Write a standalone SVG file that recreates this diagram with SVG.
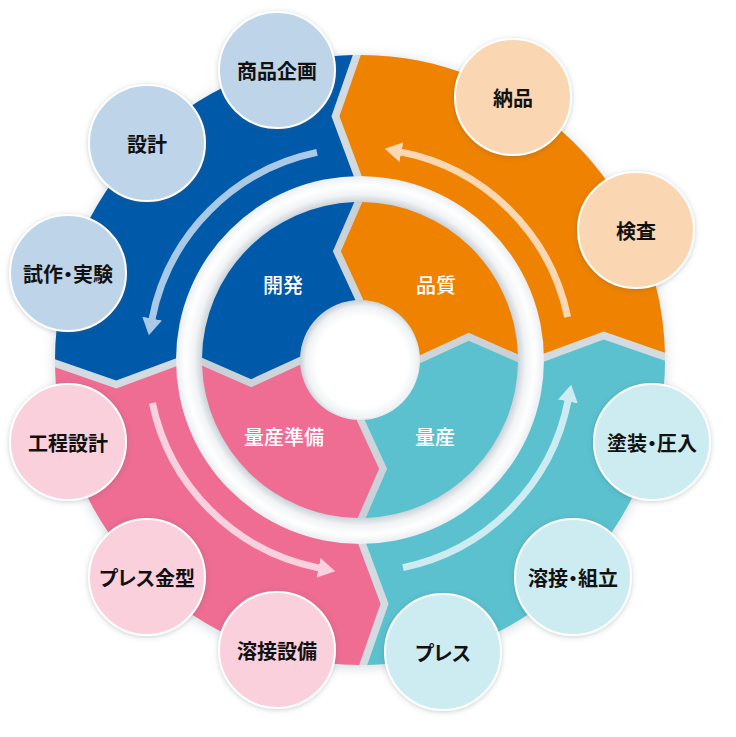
<svg xmlns="http://www.w3.org/2000/svg" width="736" height="737" viewBox="0 0 736 737">
<defs>
<style>
.blue{fill:#0059a9}.orange{fill:#ef8200}.pink{fill:#ef6c93}.cyan{fill:#5bc1cf}
.nb{fill:#bdd4e9}.no{fill:#fad7b2}.np{fill:#fbd0dd}.nc{fill:#cdecf1}
.node circle{stroke:#fff;stroke-width:2;filter:url(#sh)}
.node text{font-family:"Noto Sans CJK JP","Noto Sans",sans-serif;font-size:20px;font-weight:700;fill:#111;text-anchor:middle;dominant-baseline:central}
.node text.p{font-feature-settings:"palt"}
.lab{font-family:"Noto Sans CJK JP","Noto Sans",sans-serif;font-size:20px;font-weight:500;fill:#fff;text-anchor:middle;dominant-baseline:central}
.arc{fill:none;stroke-width:7}
</style>
<filter id="sh" x="-20%" y="-20%" width="140%" height="140%"><feDropShadow dx="0" dy="1" stdDeviation="2.5" flood-color="#4a5a66" flood-opacity="0.3"/></filter>
<filter id="blur" x="-10%" y="-10%" width="120%" height="120%"><feGaussianBlur stdDeviation="6"/></filter>
<radialGradient id="band" gradientUnits="userSpaceOnUse" cx="360" cy="360" r="184">
<stop offset="0" stop-color="#d3dbe1"/><stop offset="0.855" stop-color="#c8d0d6"/><stop offset="0.9" stop-color="#f1f3f5"/><stop offset="0.95" stop-color="#ffffff"/><stop offset="1" stop-color="#eaeef1"/>
</radialGradient>
<radialGradient id="hole" gradientUnits="userSpaceOnUse" cx="362" cy="362" r="61">
<stop offset="0" stop-color="#ffffff"/><stop offset="0.75" stop-color="#ffffff"/><stop offset="0.92" stop-color="#eef1f3"/><stop offset="1" stop-color="#cdd4da"/>
</radialGradient>
<marker id="mb" markerUnits="userSpaceOnUse" markerWidth="18" markerHeight="20" refX="1" refY="10" orient="auto"><path d="M0,0 L17,10 L0,20 Z" fill="#a9c9e6"/></marker>
<marker id="mp" markerUnits="userSpaceOnUse" markerWidth="18" markerHeight="20" refX="1" refY="10" orient="auto"><path d="M0,0 L17,10 L0,20 Z" fill="#f9d0dd"/></marker>
<marker id="mc" markerUnits="userSpaceOnUse" markerWidth="18" markerHeight="20" refX="1" refY="10" orient="auto"><path d="M0,0 L17,10 L0,20 Z" fill="#cdecf1"/></marker>
<marker id="mo" markerUnits="userSpaceOnUse" markerWidth="18" markerHeight="20" refX="1" refY="10" orient="auto"><path d="M0,0 L17,10 L0,20 Z" fill="#fbd8b3"/></marker>
<path id="so" d="M -4,-304.97 A 305 305 0 0 0 -304.97,-4 L -244,18 L -182.96,-4 A 183 183 0 0 1 -4,-182.96 L -26,-244 Z"/>
<path id="si" d="M -4,-157.95 A 158 158 0 0 0 -157.95,-4 L -109,18 L -60,-4 L -40,-4 L -4,-40 L -4,-60 L -26,-109 Z"/>
</defs>
<rect width="736" height="737" fill="#ffffff"/>
<g id="wheel">
<circle cx="360" cy="362" r="306" fill="#aeb9c2" opacity="0.5" filter="url(#blur)"/>
<circle cx="360" cy="360" r="305" fill="#d3dbe1"/>
<g transform="translate(360 360) rotate(-0.6)">
<use href="#so" class="blue"/>
<use href="#so" class="pink" transform="rotate(-90)"/>
<use href="#so" class="cyan" transform="rotate(-180)"/>
<use href="#so" class="orange" transform="rotate(90)"/>
</g>
<circle cx="360" cy="360" r="184" fill="url(#band)"/>
<g transform="translate(360 360) rotate(-0.6)">
<use href="#si" class="blue"/>
<use href="#si" class="pink" transform="rotate(-90)"/>
<use href="#si" class="cyan" transform="rotate(-180)"/>
<use href="#si" class="orange" transform="rotate(90)"/>
</g>
<circle cx="360" cy="360" r="60" fill="url(#hole)"/>
<text class="lab" x="283" y="284">開発</text>
<text class="lab" x="436" y="284">品質</text>
<text class="lab" x="284" y="436">量産準備</text>
<text class="lab" x="435" y="436">量産</text>
</g>
<g id="connectors" transform="translate(360 360)">
<path class="arc" stroke="#a9c9e6" marker-end="url(#mb)" d="M -43,-207.6 A 212 212 0 0 0 -208.1,-40.45"/>
<path class="arc" stroke="#f9d0dd" marker-end="url(#mp)" transform="rotate(-90)" d="M -43,-207.6 A 212 212 0 0 0 -208.1,-40.45"/>
<path class="arc" stroke="#cdecf1" marker-end="url(#mc)" transform="rotate(-180)" d="M -43,-207.6 A 212 212 0 0 0 -208.1,-40.45"/>
<path class="arc" stroke="#fbd8b3" marker-end="url(#mo)" transform="rotate(90)" d="M -43,-207.6 A 212 212 0 0 0 -208.1,-40.45"/>
</g>
<g id="n1" class="node"><circle class="nb" cx="277" cy="70" r="58"/><text x="277" y="70">商品企画</text></g>
<g id="n2" class="node"><circle class="nb" cx="147" cy="143" r="58"/><text x="147" y="143">設計</text></g>
<g id="n3" class="node"><circle class="nb" cx="68" cy="273" r="58"/><text class="p" x="68" y="273">試作・実験</text></g>
<g id="n4" class="node"><circle class="np" cx="68" cy="442" r="58"/><text x="68" y="442">工程設計</text></g>
<g id="n5" class="node"><circle class="np" cx="147" cy="577" r="58"/><text class="p" x="147" y="577">プレス金型</text></g>
<g id="n6" class="node"><circle class="np" cx="277" cy="650" r="58"/><text x="277" y="650">溶接設備</text></g>
<g id="n7" class="node"><circle class="nc" cx="443" cy="652" r="58"/><text class="p" x="443" y="652">プレス</text></g>
<g id="n8" class="node"><circle class="nc" cx="573" cy="577" r="58"/><text class="p" x="573" y="577">溶接・組立</text></g>
<g id="n9" class="node"><circle class="nc" cx="652" cy="442" r="58"/><text class="p" x="652" y="442">塗装・圧入</text></g>
<g id="n10" class="node"><circle class="no" cx="636" cy="230" r="58"/><text x="636" y="230">検査</text></g>
<g id="n11" class="node"><circle class="no" cx="513" cy="97" r="58"/><text x="513" y="97">納品</text></g>
</svg>
